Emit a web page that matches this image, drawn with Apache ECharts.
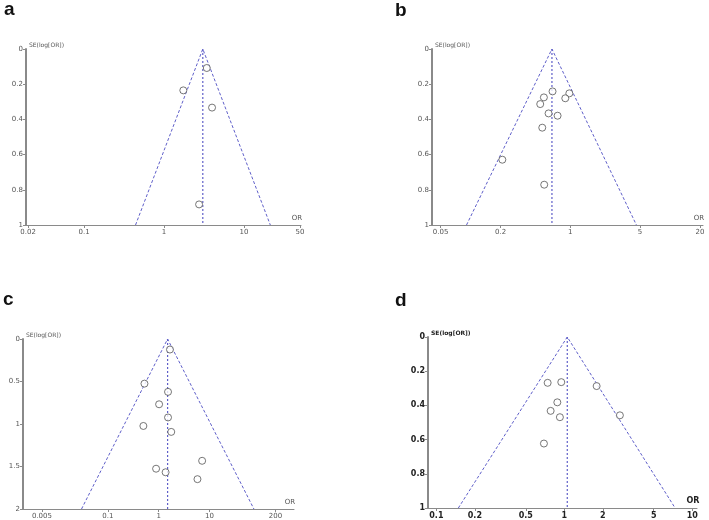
<!DOCTYPE html>
<html>
<head>
<meta charset="utf-8">
<script src="https://cdn.jsdelivr.net/npm/echarts@6/dist/echarts.min.js"></script>
<style>
html, body { margin: 0; padding: 0; background: #fff; }
#chart { width: 709px; height: 520px; }
</style>
</head>
<body>
<div id="chart"></div>
<script>
// panel a
const orA = [3.42, 1.74, 3.98, 2.74];
const seA = [0.108, 0.235, 0.333, 0.883];
const funnelA = [3.05, 0.44, 21.3]; // apex OR, bottom-left OR, bottom-right OR
const xTicksA = [0.02, 0.1, 1, 10, 50];

// panel b
const orB = [0.663, 0.543, 0.499, 0.977, 0.89, 0.605, 0.745, 0.523, 0.208, 0.547];
const seB = [0.241, 0.275, 0.313, 0.252, 0.28, 0.366, 0.379, 0.447, 0.629, 0.771];
const funnelB = [0.654, 0.091, 4.6];
const xTicksB = [0.05, 0.2, 1, 5, 20];

// panel c
const orC = [1.67, 0.525, 1.53, 1.02, 1.53, 0.5, 1.77, 7.19, 0.89, 1.37, 5.82];
const seC = [0.124, 0.525, 0.622, 0.768, 0.923, 1.023, 1.093, 1.433, 1.526, 1.568, 1.649];
const funnelC = [1.5, 0.0302, 75.4];
const xTicksC = [0.005, 0.1, 1, 10, 200];

// panel d
const orD = [0.741, 0.947, 1.79, 0.882, 0.782, 0.924, 2.72, 0.693];
const seD = [0.268, 0.264, 0.287, 0.382, 0.432, 0.469, 0.458, 0.623];
const funnelD = [1.055, 0.1485, 7.35];
const xTicksD = [0.1, 0.2, 0.5, 1, 2, 5, 10];

const panels = [
  { letter: "a", or: orA, se: seA, funnel: funnelA, xTicks: xTicksA, xMin: 0.0188, xMax: 51.5,
    seMax: 1, seStep: 0.2, grid: { left: 26, top: 49, width: 275, height: 176 },
    title: { left: 4, top: 0 }, bold: false },
  { letter: "b", or: orB, se: seB, funnel: funnelB, xTicks: xTicksB, xMin: 0.041, xMax: 21.4,
    seMax: 1, seStep: 0.2, grid: { left: 432, top: 49, width: 271, height: 176 },
    title: { left: 395, top: 1 }, bold: false },
  { letter: "c", or: orC, se: seC, funnel: funnelC, xTicks: xTicksC, xMin: 0.00212, xMax: 465,
    seMax: 2, seStep: 0.5, grid: { left: 23, top: 339, width: 271, height: 173 },
    title: { left: 3, top: 290 }, bold: false },
  { letter: "d", or: orD, se: seD, funnel: funnelD, xTicks: xTicksD, xMin: 0.086, xMax: 10.9,
    seMax: 1, seStep: 0.2, grid: { left: 428, top: 337, width: 269, height: 172 },
    title: { left: 395, top: 291 }, bold: true },
];

const funnelColor = "#5f5fc9";
const axisColor = "#8a8a8a";

const option = {
  animation: false,
  title: [],
  grid: [],
  xAxis: [],
  yAxis: [],
  series: [],
};

panels.forEach((p, i) => {
  const labelStyle = {
    fontSize: p.bold ? 8 : 7,
    fontWeight: p.bold ? "bold" : "normal",
    color: p.bold ? "#222" : "#555",
    fontFamily: "DejaVu Sans",
  };
  option.title.push({
    text: p.letter,
    left: p.title.left,
    top: p.title.top,
    padding: 0,
    textStyle: { fontSize: 19, fontWeight: "bold", color: "#111", fontFamily: "Liberation Sans" },
  });
  option.grid.push(Object.assign({ containLabel: false }, p.grid));
  option.xAxis.push({
    gridIndex: i,
    type: "log",
    logBase: 10,
    min: p.xMin,
    max: p.xMax,
    position: "bottom",
    name: "OR",
    nameLocation: "end",
    nameGap: -4,
    nameTextStyle: Object.assign({}, labelStyle, { verticalAlign: "bottom", align: "center", padding: [0, 0, 3, 0] }),
    axisLine: { onZero: false, lineStyle: { color: axisColor, width: 1 } },
    axisTick: { show: true, length: 3, customValues: p.xTicks, lineStyle: { color: axisColor } },
    axisLabel: Object.assign({ customValues: p.xTicks, margin: 4 }, labelStyle),
    splitLine: { show: false },
    minorTick: { show: false },
  });
  option.yAxis.push({
    gridIndex: i,
    type: "value",
    inverse: true,
    min: 0,
    max: p.seMax,
    interval: p.seStep,
    name: "SE(log[OR])",
    nameLocation: "start",
    nameGap: 1,
    nameTextStyle: Object.assign({}, labelStyle, { fontSize: 6, align: "left", verticalAlign: "bottom", padding: [0, 0, 0, 3] }),
    axisLine: { show: true, onZero: false, lineStyle: { color: axisColor, width: 2 } },
    axisTick: { show: true, length: 3, lineStyle: { color: axisColor } },
    axisLabel: Object.assign({ margin: 3 }, labelStyle),
    splitLine: { show: false },
  });
  const [apex, lo, hi] = p.funnel;
  option.series.push({
    type: "line",
    xAxisIndex: i,
    yAxisIndex: i,
    data: [[lo, p.seMax], [apex, 0], [hi, p.seMax]],
    showSymbol: false,
    silent: true,
    lineStyle: { color: funnelColor, width: 1, type: [3, 2] },
  });
  option.series.push({
    type: "line",
    xAxisIndex: i,
    yAxisIndex: i,
    data: [[apex, 0], [apex, p.seMax]],
    showSymbol: false,
    silent: true,
    lineStyle: { color: funnelColor, width: 1.2, type: [2, 2] },
  });
  option.series.push({
    type: "scatter",
    xAxisIndex: i,
    yAxisIndex: i,
    data: p.or.map((v, k) => [v, p.se[k]]),
    symbol: "circle",
    symbolSize: 7,
    itemStyle: { color: "#fff", borderColor: "#555", borderWidth: 1 },
    z: 5,
  });
});

const chart = echarts.init(document.getElementById("chart"));
chart.setOption(option);
</script>
</body>
</html>
